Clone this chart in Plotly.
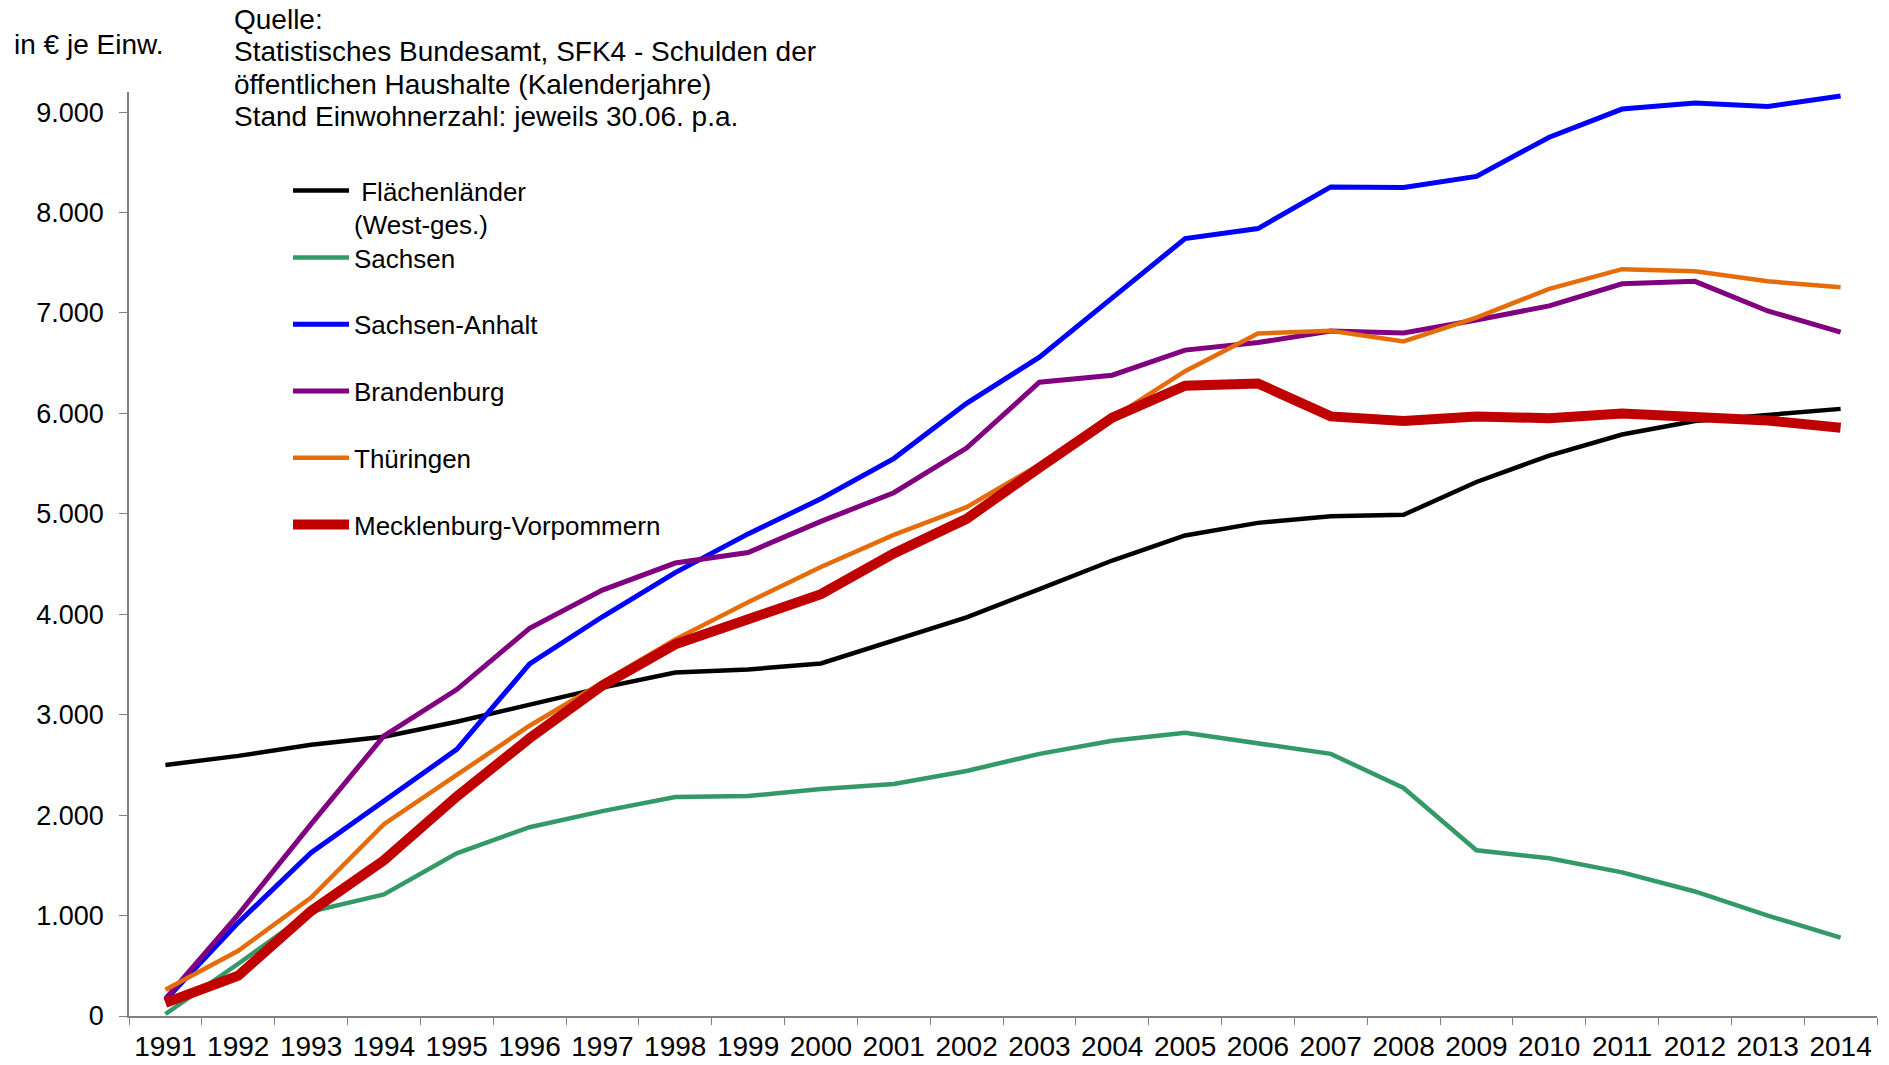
import plotly.graph_objects as go

# Jahre (Kategorien der x-Achse)
years = ['1991', '1992', '1993', '1994', '1995', '1996', '1997', '1998',
         '1999', '2000', '2001', '2002', '2003', '2004', '2005', '2006',
         '2007', '2008', '2009', '2010', '2011', '2012', '2013', '2014']

# Schulden in EUR je Einwohner
west = [2500, 2590, 2700, 2780, 2930, 3100, 3270, 3420, 3450, 3510, 3740, 3970,
        4250, 4535, 4785, 4910, 4975, 4990, 5317, 5580, 5790, 5925, 5985, 6045]
sachsen = [20, 520, 1040, 1210, 1620, 1880, 2040, 2180, 2190, 2260, 2310, 2440,
           2610, 2740, 2820, 2710, 2610, 2270, 1650, 1570, 1430, 1240, 1000, 780]
anhalt = [160, 930, 1625, 2140, 2655, 3505, 3975, 4415, 4800, 5150, 5550, 6100,
          6560, 7150, 7740, 7840, 8255, 8250, 8360, 8750, 9030, 9090, 9055, 9160]
brandenburg = [170, 1010, 1910, 2790, 3250, 3860, 4240, 4510, 4615, 4925, 5210, 5655,
               6310, 6380, 6630, 6705, 6820, 6800, 6930, 7070, 7290, 7315, 7020, 6810]
thueringen = [262, 650, 1180, 1910, 2400, 2890, 3320, 3750, 4120, 4470, 4790, 5066,
              5490, 5953, 6420, 6795, 6822, 6716, 6954, 7240, 7436, 7415, 7315, 7255]
mv = [130, 402, 1045, 1550, 2185, 2765, 3290, 3700, 3950, 4200, 4605, 4950,
      5460, 5958, 6275, 6298, 5970, 5925, 5970, 5952, 5998, 5972, 5930, 5858]

y_ticks = [0, 1000, 2000, 3000, 4000, 5000, 6000, 7000, 8000, 9000]
y_labels = ['0', '1.000', '2.000', '3.000', '4.000', '5.000', '6.000', '7.000', '8.000', '9.000']

source_lines = ['Quelle:',
                'Statistisches Bundesamt, SFK4 - Schulden der',
                'öffentlichen Haushalte (Kalenderjahre)',
                'Stand Einwohnerzahl: jeweils 30.06. p.a.']

FONT = 'Liberation Sans, Arial, sans-serif'
# the page body keeps an 8px margin, so the figure is 8px smaller than the window
W, H = 1881, 1057
L, R, T, B = 121.3, 12.3, 84.3, 49
PW, PH = W - L - R, H - T - B

series = [
    ('\u00a0Flächenländer<br>(West-ges.)', west, '#000000', 4.5, 'legend'),
    ('Sachsen', sachsen, '#339966', 4.5, 'legend2'),
    ('Sachsen-Anhalt', anhalt, '#0000FF', 5, 'legend2'),
    ('Brandenburg', brandenburg, '#800080', 5, 'legend2'),
    ('Thüringen', thueringen, '#E46C0A', 4.5, 'legend2'),
    ('Mecklenburg-Vorpommern', mv, '#C00000', 10, 'legend2'),
]

fig = go.Figure()
for i, (name, vals, color, width, leg) in enumerate(series):
    fig.add_trace(go.Scatter(x=years, y=vals, mode='lines', name=name,
                             line=dict(color=color, width=width),
                             legend=leg, legendgroup='g%d' % i))

fig.update_layout(
    width=W, height=H,
    margin=dict(l=L, r=R, t=T, b=B, autoexpand=False),
    paper_bgcolor='white', plot_bgcolor='white',
    font=dict(family=FONT, size=27, color='black'),
    showlegend=True,
    legend=dict(xref='container', yref='container', x=280 / W, y=1 - 159 / H,
                xanchor='left', yanchor='top', valign='top', bgcolor='rgba(0,0,0,0)',
                font=dict(size=26), itemwidth=56),
    legend2=dict(xref='container', yref='container', x=280 / W, y=1 - 226 / H,
                 xanchor='left', yanchor='top', bgcolor='rgba(0,0,0,0)',
                 traceorder='grouped', tracegroupgap=30,
                 font=dict(size=26), itemwidth=56),
    xaxis=dict(type='category', range=[-0.5, 23.5], tickson='boundaries',
               ticks='outside', ticklen=7, tickcolor='#808080', showline=True,
               linecolor='#808080', linewidth=1.5, showgrid=False, zeroline=False,
               tickangle=0, ticklabelstandoff=5, tickfont=dict(size=28)),
    yaxis=dict(range=[0, 9200], tickvals=y_ticks, ticktext=y_labels, ticks='outside',
               ticklen=8, tickcolor='#808080', showline=True, linecolor='#808080',
               linewidth=1.5, showgrid=False, zeroline=False, ticklabelstandoff=10,
               tickfont=dict(size=27)),
)

# Text oben links
fig.add_annotation(text='in € je Einw.', xref='paper', yref='paper',
                   x=(4.5 - L) / PW, y=(H - B - 36.6) / PH, xanchor='left', yanchor='middle',
                   showarrow=False, font=dict(size=28))
for k, line in enumerate(source_lines):
    fig.add_annotation(text=line, xref='paper', yref='paper',
                       x=(224.4 - L) / PW, y=(H - B - (11.7 + 32.5 * k)) / PH,
                       xanchor='left', yanchor='middle', showarrow=False,
                       font=dict(size=28))

fig.write_html('out.html')
